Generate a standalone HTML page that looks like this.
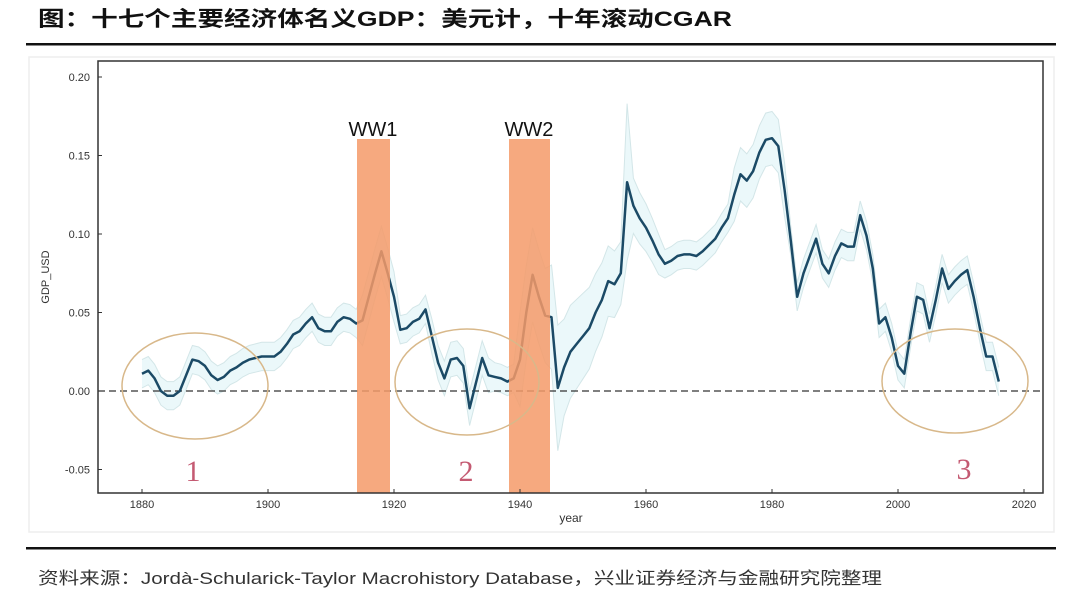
<!DOCTYPE html>
<html><head><meta charset="utf-8"><style>
html,body{margin:0;padding:0;background:#fff;width:1080px;height:599px;overflow:hidden}
</style></head><body>
<svg id="s" width="1080" height="599" xmlns="http://www.w3.org/2000/svg" font-family="Liberation Sans, Noto Sans CJK SC, sans-serif">
<text x="38" y="26" font-size="21" font-weight="bold" fill="#111" textLength="694" lengthAdjust="spacingAndGlyphs" font-family="Liberation Sans, Noto Sans CJK SC, sans-serif">图：十七个主要经济体名义GDP：美元计，十年滚动CGAR</text>
<rect x="26" y="43" width="1030" height="2.5" fill="#111"/>
<rect x="29" y="57" width="1025" height="475" fill="none" stroke="#eee" stroke-width="1.5"/>
<g id="plot"></g>
<rect x="98" y="61" width="945" height="432" fill="none" stroke="#333" stroke-width="1.5"/>
<text transform="translate(49,277) rotate(-90)" font-size="11" fill="#333" text-anchor="middle">GDP_USD</text>
<text x="571" y="522" font-size="12" fill="#333" text-anchor="middle">year</text>
<text x="373" y="136" font-size="20" fill="#111" text-anchor="middle">WW1</text>
<text x="529" y="136" font-size="20" fill="#111" text-anchor="middle">WW2</text>
<g font-family="Liberation Serif, serif" font-size="30" fill="#c45a72" text-anchor="middle">
<text x="193" y="481">1</text><text x="466" y="481">2</text><text x="964" y="479">3</text></g>
<rect x="26" y="547" width="1030" height="2.5" fill="#111"/>
<text x="38" y="584" font-size="17" fill="#333" textLength="844" lengthAdjust="spacingAndGlyphs" font-family="Liberation Sans, Noto Sans CJK SC, sans-serif">资料来源：Jordà-Schularick-Taylor Macrohistory Database，兴业证券经济与金融研究院整理</text>
</svg>
<script>
var d={1880:.011,1881:.013,1882:.008,1883:0,1884:-.003,1885:-.003,1886:0,1887:.01,1888:.02,1889:.019,1890:.016,1891:.01,1892:.007,1893:.009,1894:.013,1895:.015,1896:.018,1897:.02,1898:.021,1899:.022,1900:.022,1901:.022,1902:.025,1903:.03,1904:.036,1905:.038,1906:.043,1907:.047,1908:.04,1909:.038,1910:.038,1911:.044,1912:.047,1913:.046,1914:.043,1915:.045,1916:.06,1917:.075,1918:.089,1919:.075,1920:.06,1921:.039,1922:.04,1923:.044,1924:.046,1925:.052,1926:.035,1927:.018,1928:.008,1929:.02,1930:.021,1931:.016,1932:-.011,1933:.005,1934:.021,1935:.01,1936:.009,1937:.008,1938:.006,1939:.008,1940:.02,1941:.05,1942:.074,1943:.06,1944:.048,1945:.047,1946:.002,1947:.015,1948:.025,1949:.03,1950:.035,1951:.04,1952:.05,1953:.058,1954:.07,1955:.068,1956:.075,1957:.133,1958:.118,1959:.11,1960:.104,1961:.096,1962:.087,1963:.081,1964:.083,1965:.086,1966:.087,1967:.087,1968:.086,1969:.089,1970:.093,1971:.097,1972:.104,1973:.11,1974:.125,1975:.138,1976:.134,1977:.14,1978:.152,1979:.16,1980:.161,1981:.156,1982:.128,1983:.095,1984:.06,1985:.075,1986:.086,1987:.097,1988:.081,1989:.075,1990:.086,1991:.094,1992:.092,1993:.092,1994:.112,1995:.099,1996:.078,1997:.043,1998:.047,1999:.034,2000:.016,2001:.011,2002:.037,2003:.06,2004:.058,2005:.04,2006:.058,2007:.078,2008:.065,2009:.07,2010:.074,2011:.077,2012:.06,2013:.04,2014:.022,2015:.022,2016:.006};
function X(y){return 142+(y-1880)*6.3}function Y(v){return 391-v*1570}
function w(y){if(y>=1945&&y<=1962){if(y==1946)return .04;if(y==1957)return .05;return .032-(y-1946)*.0012}if(y>=1915&&y<=1920)return .016;if(y>=1940&&y<=1945)return .03;if(y>=1926&&y<=1935)return .011;if(y>=1974&&y<=1982)return .017;return .009}
var ys=Object.keys(d).map(Number),up=[],lo=[],ln=[];
ys.forEach(function(y){var v=d[y],k=w(y);up.push(X(y).toFixed(1)+","+Y(v+k).toFixed(1));lo.push(X(y).toFixed(1)+","+Y(v-k).toFixed(1));ln.push(X(y).toFixed(1)+","+Y(v).toFixed(1));});
var s='';
s+='<polygon points="'+up.join(" ")+" "+lo.slice().reverse().join(" ")+'" fill="#ebf8fa"/>';
s+='<polyline points="'+up.join(" ")+'" fill="none" stroke="#d3e6e8" stroke-width="1"/>';
s+='<polyline points="'+lo.join(" ")+'" fill="none" stroke="#d3e6e8" stroke-width="1"/>';
s+='<line x1="98" y1="391" x2="1043" y2="391" stroke="#333" stroke-width="1.3" stroke-dasharray="7,4"/>';
s+='<polyline points="'+ln.join(" ")+'" fill="none" stroke="#1b4a66" stroke-width="2.5" stroke-linejoin="round"/>';
s+='<rect x="357" y="139" width="33" height="354" fill="#f59a68" opacity="0.85"/>';
s+='<rect x="509" y="139" width="41" height="354" fill="#f59a68" opacity="0.85"/>';
[[195,386,73,53],[467,382,72,53],[955,381,73,52]].forEach(function(e){s+='<ellipse cx="'+e[0]+'" cy="'+e[1]+'" rx="'+e[2]+'" ry="'+e[3]+'" fill="none" stroke="#d8b88a" stroke-width="1.5"/>';});
[[.2,"0.20"],[.15,"0.15"],[.1,"0.10"],[.05,"0.05"],[0,"0.00"],[-.05,"-0.05"]].forEach(function(t){var y=Y(t[0]);s+='<line x1="98" y1="'+y+'" x2="102" y2="'+y+'" stroke="#333"/><text x="90" y="'+(y+4)+'" font-size="11" fill="#333" text-anchor="end">'+t[1]+'</text>';});
for(var yr=1880;yr<=2020;yr+=20){var x=X(yr);s+='<line x1="'+x+'" y1="489" x2="'+x+'" y2="493" stroke="#333"/><text x="'+x+'" y="508" font-size="11" fill="#333" text-anchor="middle">'+yr+'</text>';}
document.getElementById("plot").innerHTML=s;
</script>
</body></html>
